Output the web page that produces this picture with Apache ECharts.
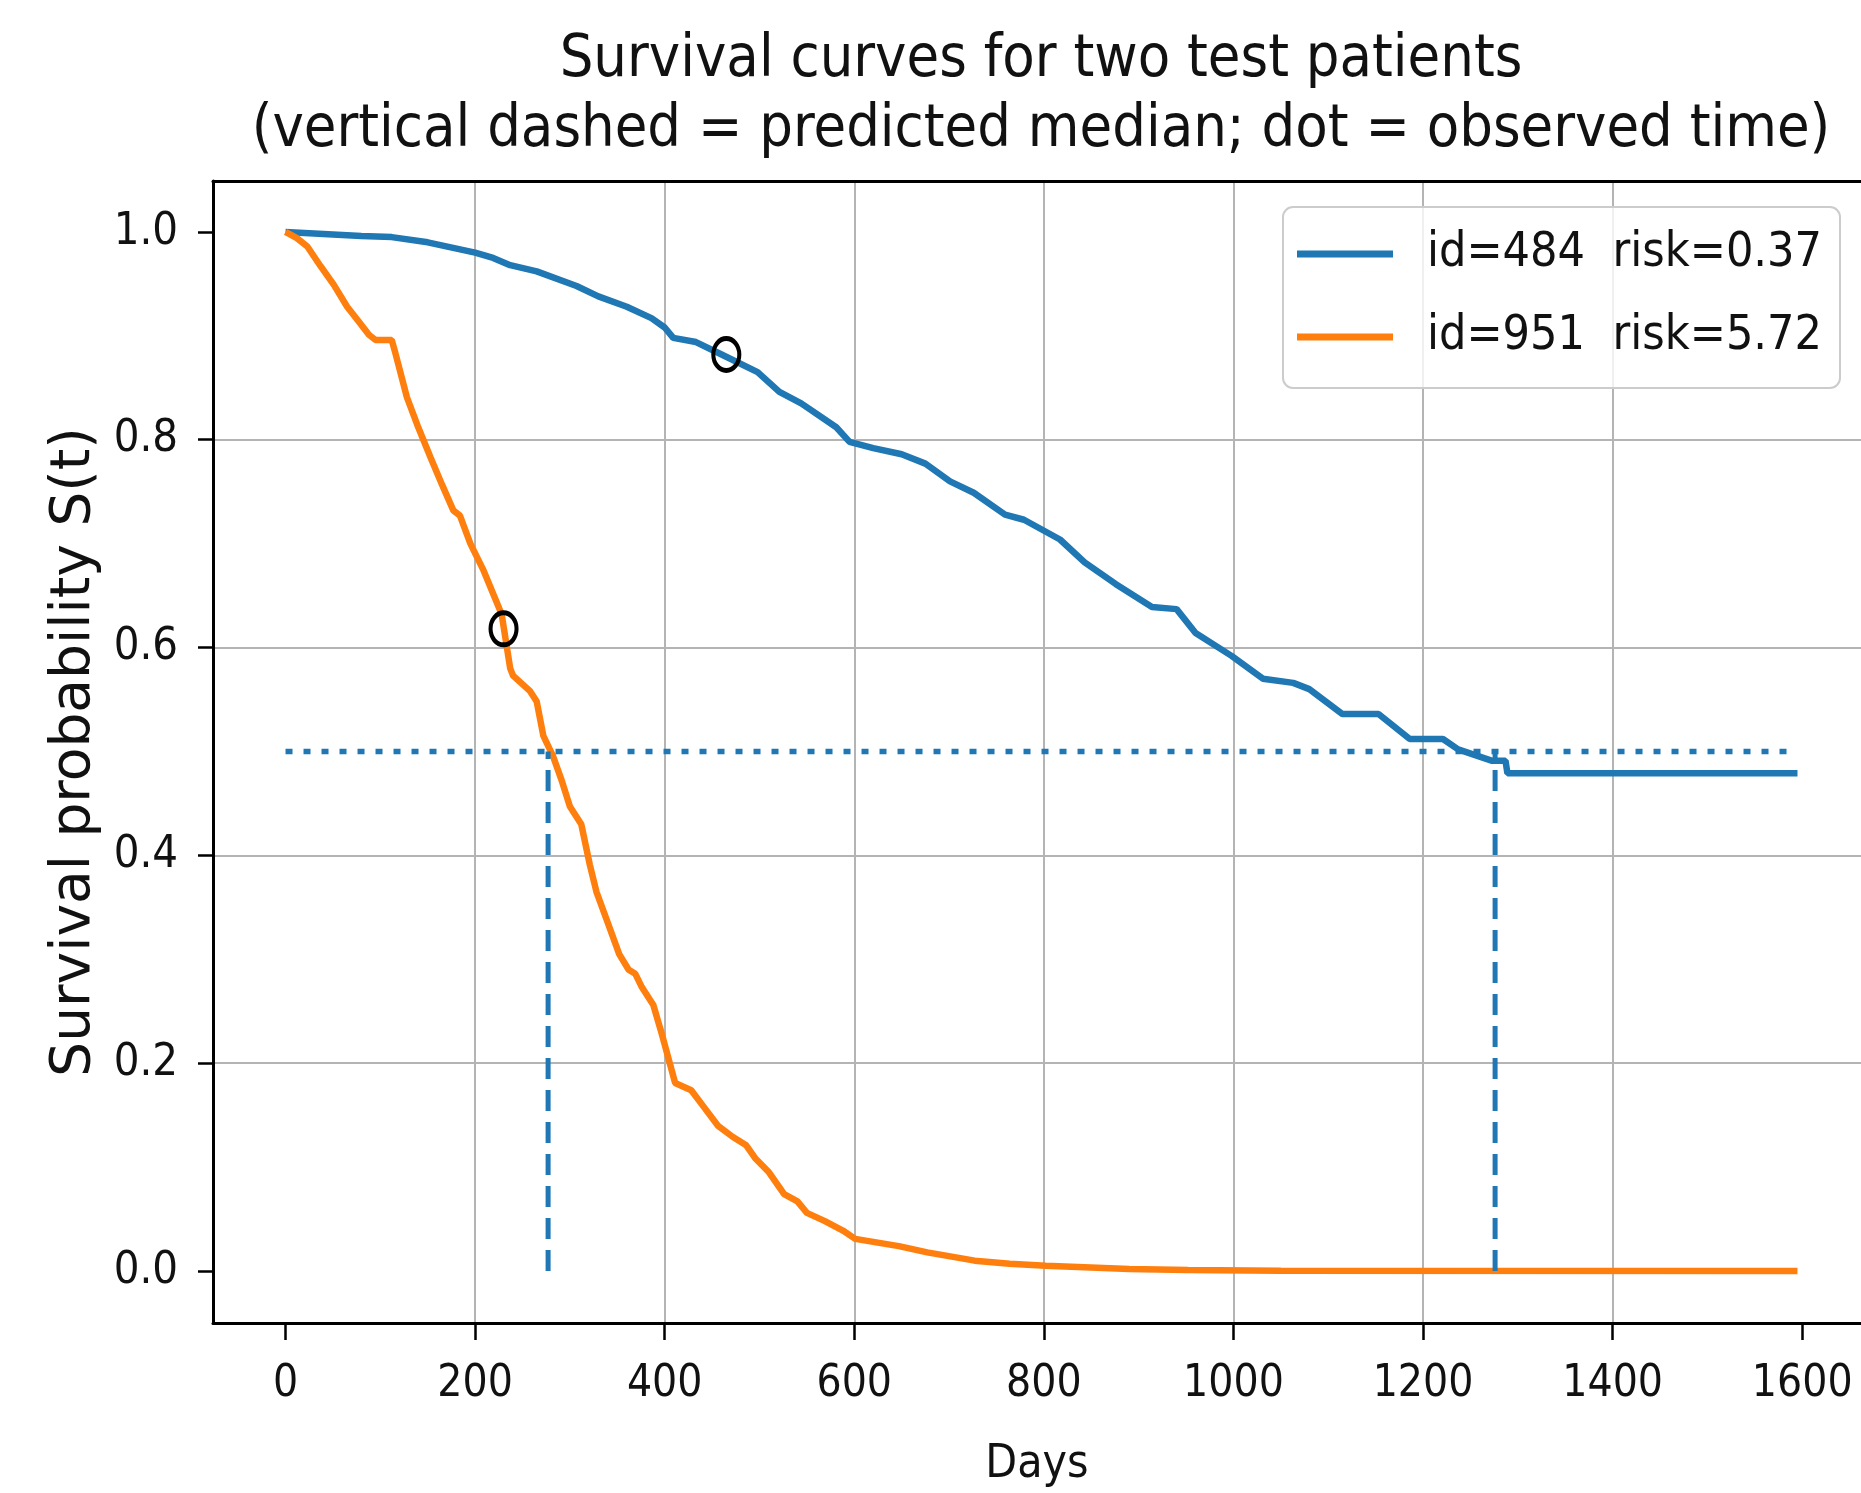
<!DOCTYPE html>
<html>
<head>
<meta charset="utf-8">
<title>Survival curves</title>
<script src="https://cdn.jsdelivr.net/npm/echarts@6/dist/echarts.min.js"></script>
<style>
  html, body { margin: 0; padding: 0; background: #fff; }
  #chart { width: 1861px; height: 1493px; }
</style>
</head>
<body>
<div id="chart"></div>
<script>
// values: [day, S(t)]
const curve484 = [
  [0, 1.0], [40, 0.998], [80, 0.996], [112, 0.995], [150, 0.990], [200, 0.980],
  [219, 0.975], [237, 0.968], [265, 0.962], [307, 0.948], [330, 0.938], [360, 0.928],
  [386, 0.917], [400, 0.908], [409, 0.898], [433, 0.894], [460, 0.882], [498, 0.865],
  [521, 0.846], [544, 0.835], [581, 0.812], [595, 0.798], [620, 0.792], [650, 0.786],
  [675, 0.777], [701, 0.760], [726, 0.749], [759, 0.728], [779, 0.723], [817, 0.704],
  [843, 0.682], [876, 0.661], [914, 0.639], [940, 0.637], [960, 0.614], [998, 0.592],
  [1031, 0.570], [1063, 0.566], [1080, 0.560], [1115, 0.536], [1153, 0.536], [1186, 0.512],
  [1221, 0.512], [1237, 0.502], [1273, 0.491], [1287, 0.491], [1289, 0.479], [1595, 0.479]
];
const curve951 = [
  [0, 1.0], [12, 0.994], [23, 0.986], [37, 0.967], [51, 0.949], [65, 0.928], [77, 0.914],
  [88, 0.901], [95, 0.896], [112, 0.896], [116, 0.883], [128, 0.841], [140, 0.812],
  [153, 0.783], [165, 0.757], [177, 0.732], [184, 0.727], [195, 0.700], [209, 0.674],
  [228, 0.632], [237, 0.580], [240, 0.573], [258, 0.558], [265, 0.548], [272, 0.515],
  [282, 0.496], [291, 0.473], [300, 0.447], [312, 0.430], [321, 0.391], [328, 0.365],
  [340, 0.335], [352, 0.305], [362, 0.290], [369, 0.286], [376, 0.273], [388, 0.256],
  [397, 0.228], [411, 0.181], [428, 0.174], [442, 0.157], [456, 0.140], [472, 0.129],
  [486, 0.121], [496, 0.108], [510, 0.095], [526, 0.074], [540, 0.067], [550, 0.056],
  [569, 0.048], [588, 0.039], [601, 0.031], [647, 0.024], [677, 0.018], [727, 0.010],
  [764, 0.007], [802, 0.005], [890, 0.002], [952, 0.001], [1050, 0.0003], [1595, 0.0]
];
const seriesNames = ['id=484  risk=0.37', 'id=951  risk=5.72'];
const medianLevel = 0.5;
const medianSpan = [0, 1595];           // horizontal dotted line extent (days)
const medianTimes = [1276, 277];        // predicted medians: id=484, id=951
const observed = [[465, 0.882], [230, 0.618]];
const xTicks = [0, 200, 400, 600, 800, 1000, 1200, 1400, 1600];
const yTicks = [0, 0.2, 0.4, 0.6, 0.8, 1.0];

const BLUE = '#1f77b4';
const ORANGE = '#ff7f0e';
const COND = '"DejaVu Sans Condensed", "DejaVu Sans", sans-serif';
const X_MIN = -76.5, X_MAX = 1662;   // axes run past the right edge of the picture

const chart = echarts.init(document.getElementById('chart'));

const spine = { show: true, onZero: false, lineStyle: { color: '#000', width: 3 } };

const option = {
  backgroundColor: '#fff',
  animation: false,
  title: {
    text: 'Survival curves for two test patients\n(vertical dashed = predicted median; dot = observed time)',
    left: 1041,
    top: 26,
    padding: 0,
    textAlign: 'center',
    textStyle: { fontFamily: COND, fontSize: 59, fontWeight: 'normal', color: '#111', lineHeight: 70 }
  },
  legend: {
    data: seriesNames,
    orient: 'vertical',
    left: 1283,
    top: 207,
    padding: [21, 18, 25, 14],
    itemGap: 31,
    itemWidth: 96,
    itemHeight: 7,
    icon: 'rect',
    backgroundColor: 'rgba(255,255,255,0.8)',
    borderColor: '#cccccc',
    borderWidth: 2,
    borderRadius: 10,
    textStyle: { fontFamily: COND, fontSize: 48, color: '#111', lineHeight: 52, padding: [0, 0, 0, 29] }
  },
  grid: { left: 213, top: 181, right: 0, height: 1142 },
  xAxis: [
    {
      type: 'value',
      min: X_MIN, max: X_MAX, splitNumber: 8,
      name: 'Days', nameLocation: 'middle', nameGap: 119,
      nameTextStyle: { fontFamily: COND, fontSize: 46, color: '#111' },
      axisLine: spine,
      axisTick: { show: true, length: 17, customValues: xTicks, lineStyle: { color: '#000', width: 2.5 } },
      axisLabel: { customValues: xTicks, margin: 40, fontFamily: COND, fontSize: 44, color: '#111',
        formatter: v => String(v) },
      splitLine: { show: true, showMinLine: false, showMaxLine: false, lineStyle: { color: '#b4b4b4', width: 2 } }
    },
    {
      // top spine only
      type: 'value', position: 'top',
      min: X_MIN, max: X_MAX, splitNumber: 8,
      axisLine: spine, axisTick: { show: false }, axisLabel: { show: false }, splitLine: { show: false }
    }
  ],
  yAxis: {
    type: 'value',
    min: -0.05, max: 1.049, splitNumber: 5,
    name: 'Survival probability S(t)', nameLocation: 'middle', nameGap: 111,
    nameTextStyle: { fontFamily: '"DejaVu Sans", sans-serif', fontSize: 55, color: '#111' },
    axisLine: spine,
    axisTick: { show: true, length: 15, customValues: yTicks, lineStyle: { color: '#000', width: 2.5 } },
    axisLabel: {
      customValues: yTicks, margin: 35, fontFamily: COND, fontSize: 45, color: '#111',
      formatter: v => v.toFixed(1)
    },
    splitLine: { show: true, showMinLine: false, showMaxLine: false, lineStyle: { color: '#b4b4b4', width: 2 } }
  },
  series: [
    {
      name: seriesNames[0], type: 'line', data: curve484, showSymbol: false, z: 3,
      itemStyle: { color: BLUE }, lineStyle: { color: BLUE, width: 6.5 }
    },
    {
      name: seriesNames[1], type: 'line', data: curve951, showSymbol: false, z: 3,
      itemStyle: { color: ORANGE }, lineStyle: { color: ORANGE, width: 6.5 }
    },
    {
      name: 'median level', type: 'line', showSymbol: false, z: 4,
      data: medianSpan.map(d => [d, medianLevel]),
      lineStyle: { color: BLUE, width: 5.5, type: [7, 11] }
    },
    ...medianTimes.map((t, i) => ({
      name: 'median ' + i, type: 'line', showSymbol: false, z: 4,
      data: [[t, 0], [t, medianLevel]],
      lineStyle: { color: BLUE, width: 5, type: [21, 11] }
    })),
    {
      name: 'observed', type: 'scatter', data: observed, z: 5,
      symbol: 'circle', symbolSize: [26, 32],
      itemStyle: { color: 'transparent', borderColor: '#000', borderWidth: 4.5, opacity: 1 }
    }
  ]
};

chart.setOption(option);
</script>
</body>
</html>
